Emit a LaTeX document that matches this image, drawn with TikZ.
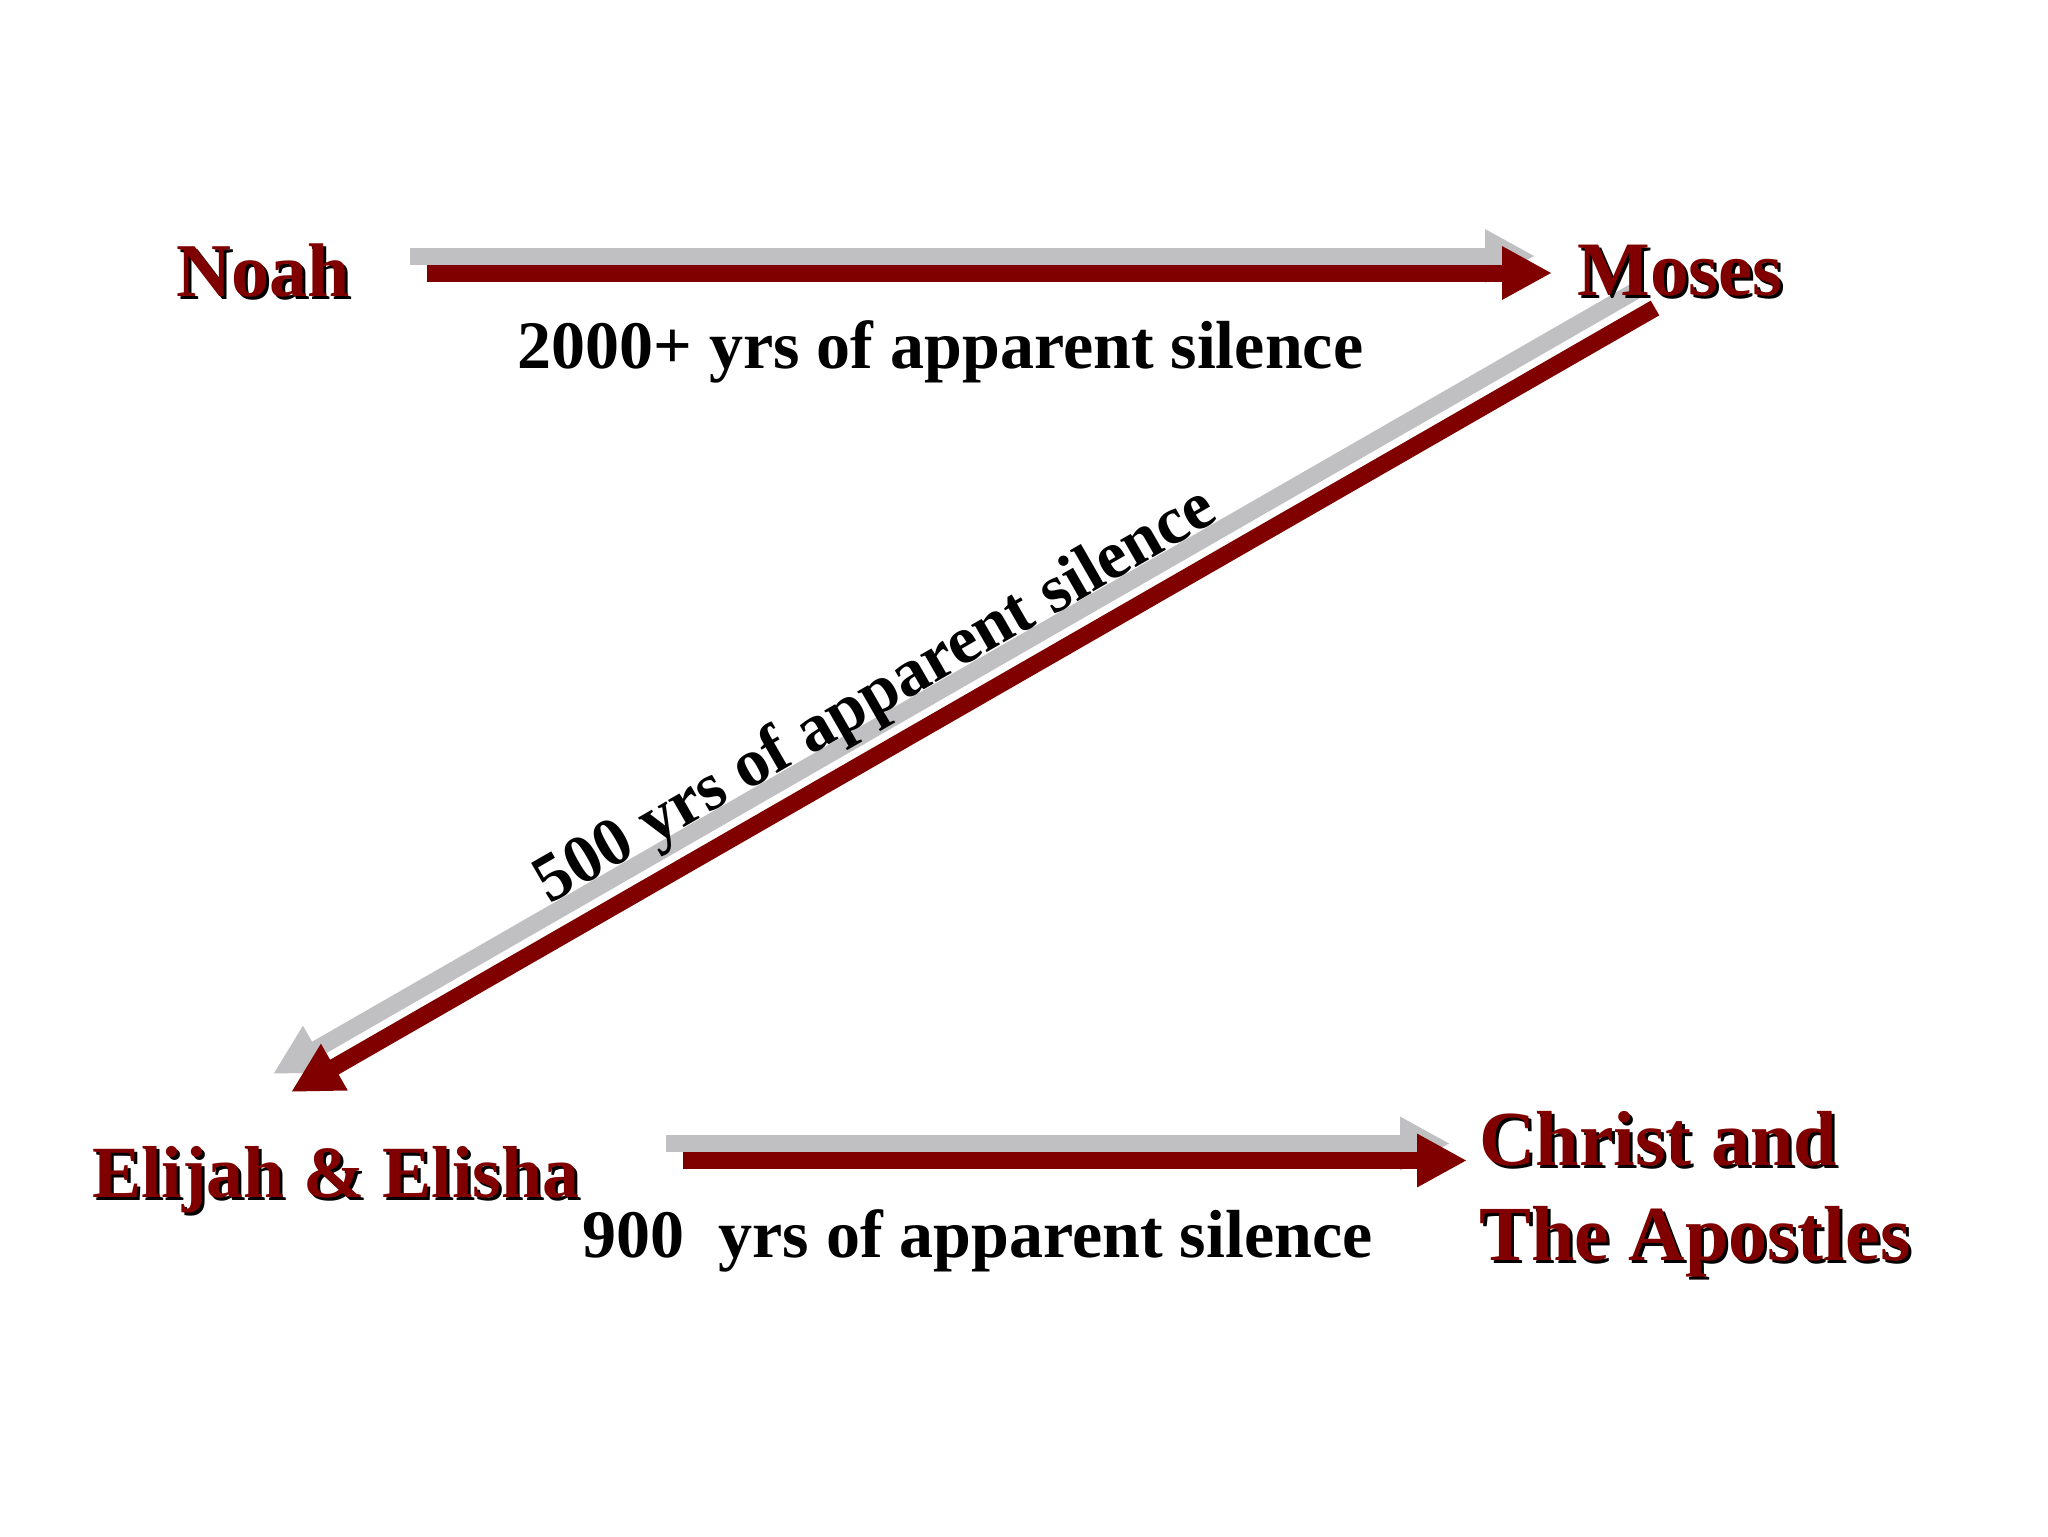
\documentclass[tikz,border=0pt]{standalone}
\usepackage{fontspec}
\setmainfont{Liberation Serif}
\usetikzlibrary{arrows.meta,calc}
\definecolor{darkred}{RGB}{128,0,0}
\definecolor{shadowgrey}{RGB}{192,192,194}
\newcommand\redname[4][38]{%
  \node[namebase,font=\fontsize{#1}{46}\selectfont\bfseries,text=black] at ($#3+(3,3)$) {#4};
  \node[namebase,font=\fontsize{#1}{46}\selectfont\bfseries,text=darkred] (#2) at #3 {#4};}
\begin{document}
\begin{tikzpicture}[x=0.5pt,y=-0.5pt,
  namebase/.style={anchor=base west, inner sep=0pt},
  gaplabel/.style={font=\fontsize{34}{40}\selectfont\bfseries, text=black, inner sep=0pt},
  arrowbar/.style={line width=8.5pt, -{Triangle[length=25pt,width=25pt]}},
  redarrow/.style={arrowbar, draw=darkred, fill=darkred},
  greyarrow/.style={arrowbar, draw=shadowgrey, fill=shadowgrey}]
\useasboundingbox[fill=white] (0,0) rectangle (2048,1536);

% arrow end points
\coordinate (a1s) at (427,273);  \coordinate (a1e) at (1552,273);
\coordinate (a2s) at (1655,308); \coordinate (a2e) at (291,1092);
\coordinate (a3s) at (683,1160.5); \coordinate (a3e) at (1467,1160.5);

% shadows of the arrows
\draw[greyarrow] ($(a1s)+(-17,-17)$) -- ($(a1e)+(-17,-17)$);
\draw[greyarrow] ($(a2s)+(-18,-18)$) -- ($(a2e)+(-18,-18)$);
\draw[greyarrow] ($(a3s)+(-17,-17)$) -- ($(a3e)+(-17,-17)$);

% arrows
\draw[redarrow] (a1s) -- (a1e);
\draw[redarrow] (a2s) -- (a2e);
\draw[redarrow] (a3s) -- (a3e);

% names
\redname{noah}{(176,296)}{Noah}
\redname[38.5]{moses}{(1577,295)}{Moses}
\redname[36.8]{elijah}{(92,1197)}{Elijah \& Elisha}
\redname[39]{christ}{(1479,1165)}{Christ and}
\redname[39]{apostles}{(1479,1260)}{The Apostles}

% gap labels
\node[gaplabel, anchor=base west] (l1) at (517,368) {2000+ yrs of apparent silence};
\node[gaplabel, anchor=base, rotate=29.9] (l2) at (885,712) {500 yrs of apparent silence};
\node[gaplabel, anchor=base west] (l3) at (582,1257) {900\ \ yrs of apparent silence};
\end{tikzpicture}
\end{document}
